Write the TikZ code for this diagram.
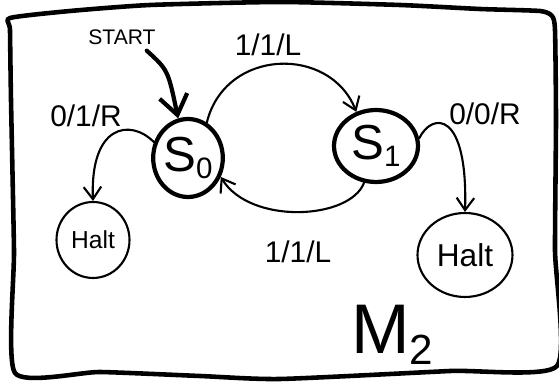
\documentclass[tikz,border=0pt]{standalone}
\usepackage{fontspec}
\setmainfont{Liberation Sans}
\usetikzlibrary{arrows.meta,shapes.geometric}

\newcommand{\sub}[1]{\raisebox{-0.15em}{\scalebox{0.6}{#1}}}

\begin{document}
\begin{tikzpicture}[x=0.02cm,y=-0.02cm,line cap=round,
  state/.style={draw,ellipse,line width=2.4pt,inner sep=0pt,font=\fontsize{28}{28}\selectfont},
  halt/.style={draw,ellipse,line width=1.2pt,inner sep=0pt},
  edge/.style={line width=1.2pt,-{Straight Barb[length=7pt,width=10pt]}},
  lbl/.style={font=\fontsize{17}{17}\selectfont}]
  \useasboundingbox (0,0) rectangle (559,384);
  % frame
  \draw[line width=2.6pt,line join=round] plot[smooth cycle,tension=0.35] coordinates {
    (10,18) (70,11) (150,5) (280,2) (400,5) (480,9) (540,11) (552,16) (555,30) (556,120)
    (555,250) (557,366) (450,371) (280,379) (200,376) (100,372) (15,373) (14,250) (11,100) (10,30)};
  % states
  \node[state,minimum width=1.32cm,minimum height=1.56cm] (s0) at (188,158) {S\sub{0}};
  \node[state,minimum width=1.68cm,minimum height=1.44cm] (s1) at (376,146) {S\sub{1}};
  \node[halt,minimum width=1.46cm,minimum height=1.52cm,font=\fontsize{14}{14}\selectfont] (h0) at (93,240) {Halt};
  \node[halt,minimum width=1.9cm,minimum height=1.68cm,font=\fontsize{18}{18}\selectfont] (h1) at (465,255) {Halt};
  % start arrow
  \node[font=\fontsize{12}{12}\selectfont] (start) at (122,37) {START};
  \draw[line width=2.4pt,-{Straight Barb[length=11pt,width=16pt]}] ([xshift=-0.3cm]start.south east) .. controls (168,70) .. (s0.104);
  % transitions
  \draw[edge] (s0.62) .. controls (225,48) and (330,45) .. (s1.120);
  \draw[edge] (s1.-108) .. controls (350,220) and (250,225) .. (s0.-30);
  \draw[edge] (s0.155) .. controls (130,118) and (90,125) .. (h0.north);
  \draw[edge] (s1.10) .. controls (432,112) and (468,110) .. (h1.north);
  \node[lbl] (t01) at (268,45) {1/1/L};
  \node[lbl] (t10) at (298,252) {1/1/L};
  \node[lbl] (t0h) at (86,116) {0/1/R};
  \node[lbl] (t1h) at (485,114) {0/0/R};
  \node[font=\fontsize{40}{40}\selectfont] (m2) at (392,335) {M\sub{2}};
\end{tikzpicture}
\end{document}
